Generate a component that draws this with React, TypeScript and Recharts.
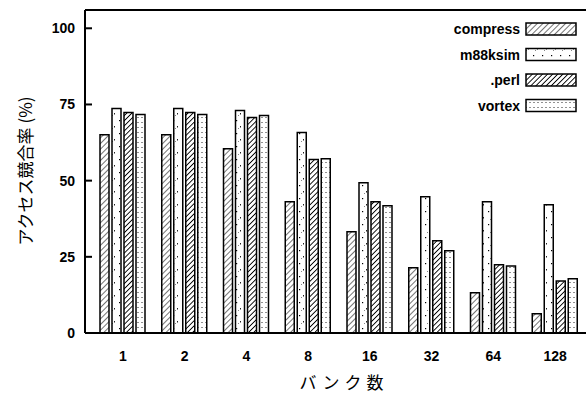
import React from "react";
import { BarChart, Bar, XAxis, YAxis, ReferenceLine, Legend, Label } from "recharts";

const banks = ["1", "2", "4", "8", "16", "32", "64", "128"];
const compress = [65.1, 65.1, 60.5, 43.1, 33.2, 21.4, 13.2, 6.3];
const m88ksim = [73.7, 73.7, 73.0, 65.8, 49.3, 44.7, 43.1, 42.1];
const perl = [72.4, 72.4, 70.7, 56.9, 43.1, 30.3, 22.4, 17.1];
const vortex = [71.7, 71.7, 71.4, 57.2, 41.8, 27.0, 22.0, 17.8];
const yTicks = [0, 25, 50, 75, 100];

const series = [
  { key: "compress", name: "compress", fill: "url(#pCompress)" },
  { key: "m88ksim", name: "m88ksim", fill: "url(#pM88)" },
  { key: "perl", name: ".perl", fill: "url(#pPerl)" },
  { key: "vortex", name: "vortex", fill: "url(#pVortex)" },
];

const data = banks.map((bank, i) => ({
  bank,
  compress: compress[i],
  m88ksim: m88ksim[i],
  perl: perl[i],
  vortex: vortex[i],
}));

const FONT = "'Liberation Sans', Arial, sans-serif";
const JP = "'Noto Sans CJK JP', sans-serif";

function YTick(props: any) {
  const { x, y, payload } = props;
  return (
    <g>
      <line x1={x + 10} x2={x + 17} y1={y} y2={y} stroke="#000" strokeWidth={2} />
      <text x={x} y={y} dy={5} textAnchor="end" fontFamily={FONT} fontWeight="bold" fontSize={14} fill="#000">
        {payload.value}
      </text>
    </g>
  );
}

function LegendBox() {
  return (
    <svg width={586} height={130} style={{ display: "block" }}>
      {series.map((s, i) => {
        const cy = 29 + i * 25.5;
        return (
          <g key={s.key}>
            <text x={520} y={cy + 5} textAnchor="end" fontFamily={FONT} fontWeight="bold" fontSize={14} fill="#000">
              {s.name}
            </text>
            <rect x={526} y={cy - 6} width={50} height={12} fill={s.fill} stroke="#000" strokeWidth={1.5} />
          </g>
        );
      })}
    </svg>
  );
}

export default function App() {
  return (
    <div style={{ position: "absolute", left: 0, top: 0, background: "#fff" }}>
      <BarChart
        width={586}
        height={394}
        data={data}
        margin={{ top: 10, right: 0, left: 0, bottom: 0 }}
        barGap={3}
        barCategoryGap={8}
      >
        <defs>
          <pattern id="pCompress" width="4" height="4" patternUnits="userSpaceOnUse" patternTransform="rotate(45)">
            <rect width="4" height="4" fill="#fff" />
            <line x1="0" y1="0" x2="0" y2="4" stroke="#000" strokeWidth="1.1" />
          </pattern>
          <pattern id="pPerl" width="3.6" height="4" patternUnits="userSpaceOnUse" patternTransform="rotate(45)">
            <rect width="3.6" height="4" fill="#fff" />
            <line x1="0" y1="0" x2="0" y2="4" stroke="#000" strokeWidth="1.8" />
          </pattern>
          <pattern id="pM88" width="9" height="13" patternUnits="userSpaceOnUse">
            <rect width="9" height="13" fill="#fff" />
            <rect x="2" y="3" width="1.2" height="1.2" fill="#000" />
            <rect x="6" y="9" width="1" height="1.5" fill="#222" />
            <rect x="4" y="11" width="0.8" height="0.8" fill="#444" />
          </pattern>
          <pattern id="pVortex" width="4" height="5" patternUnits="userSpaceOnUse">
            <rect width="4" height="5" fill="#fff" />
            <rect x="1.5" y="2" width="1" height="1" fill="#222" />
          </pattern>
        </defs>
        <XAxis
          dataKey="bank"
          height={61}
          padding={{ left: 7, right: 0 }}
          axisLine={{ stroke: "#000", strokeWidth: 2 }}
          tickLine={false}
          tickSize={0}
          tickMargin={18}
          tick={{ fontFamily: FONT, fontWeight: "bold", fontSize: 14, fill: "#000" }}
        >
          <Label
            content={() => (
              <text x={344} y={381} textAnchor="middle" dominantBaseline="central" fontFamily={JP} fontSize={17} letterSpacing={5} fill="#000">
                バンク数
              </text>
            )}
          />
        </XAxis>
        <YAxis
          width={85}
          domain={[0, 106]}
          ticks={yTicks}
          interval={0}
          axisLine={{ stroke: "#000", strokeWidth: 2 }}
          tickLine={false}
          tickSize={0}
          tickMargin={10}
          tick={<YTick />}
        >
          <Label
            content={() => (
              <text x={24} y={171} transform="rotate(-90 24 171)" textAnchor="middle" dominantBaseline="central" fontFamily={JP} fontSize={17} fill="#000">
                アクセス競合率 (%)
              </text>
            )}
          />
        </YAxis>
        <ReferenceLine y={106} stroke="#000" strokeWidth={2} />
        <Legend
          layout="horizontal"
          align="center"
          verticalAlign="middle"
          wrapperStyle={{ left: 0, top: 0, width: 586, height: 130 }}
          content={() => <LegendBox />}
        />
        {series.map((s) => (
          <Bar
            key={s.key}
            dataKey={s.key}
            name={s.name}
            fill={s.fill}
            stroke="#000"
            strokeWidth={1.5}
            isAnimationActive={false}
          />
        ))}
      </BarChart>
    </div>
  );
}
